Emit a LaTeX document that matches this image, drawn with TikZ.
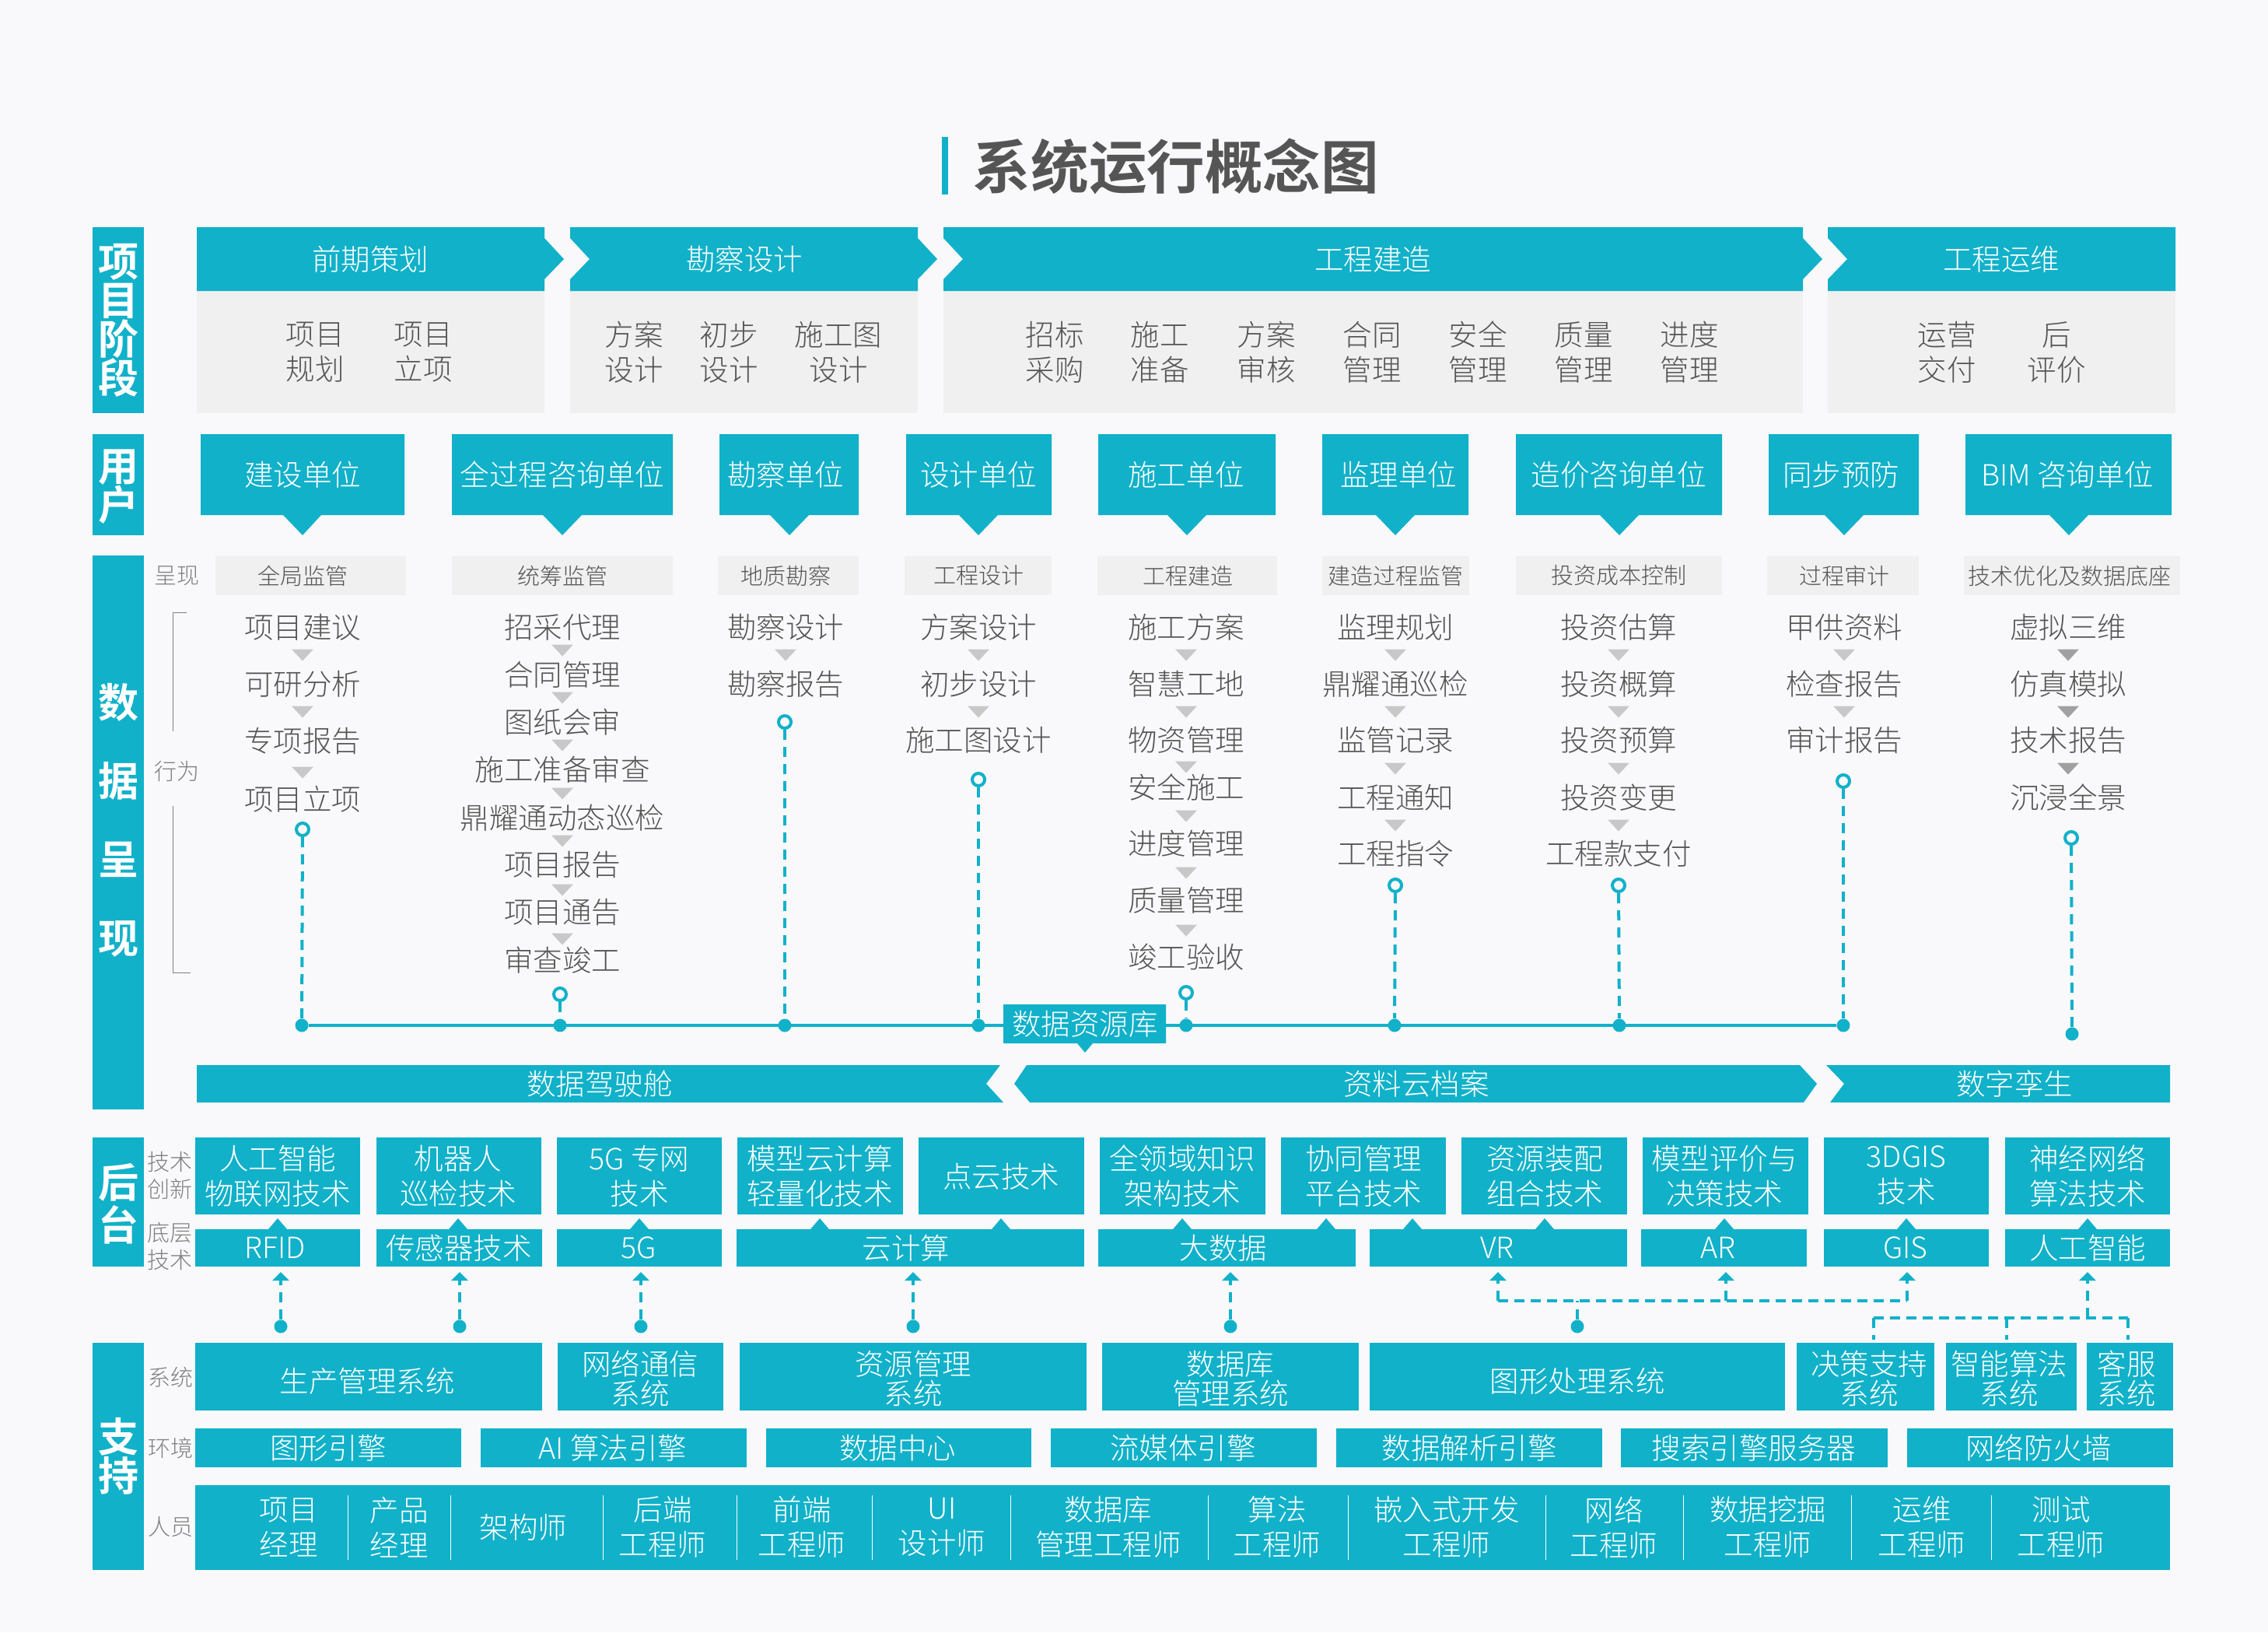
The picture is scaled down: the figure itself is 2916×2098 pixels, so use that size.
\documentclass[tikz,border=0pt]{standalone}
\usepackage{fontspec}
\usepackage{xcolor}
\setmainfont{Noto Sans CJK SC}[UprightFont={* Light}, BoldFont={* Bold}]
\usetikzlibrary{arrows.meta}
\definecolor{custom-bg}{RGB}{249, 249, 251}
\definecolor{custom-teal}{RGB}{17, 177, 201}
\definecolor{custom-panel}{RGB}{240, 240, 240}
\definecolor{custom-ink}{RGB}{85, 85, 85}
\definecolor{custom-note}{RGB}{128, 128, 128}
\definecolor{custom-mark}{RGB}{200, 200, 200}
\definecolor{custom-mark-dark}{RGB}{160, 160, 160}
\newcommand{\downmark}[3][custom-mark]{\fill[#1] (#2-14,#3-7.5) -- (#2+14,#3-7.5) -- (#2,#3+7.5) -- cycle;}
\newcommand{\uptab}[1]{\fill[custom-teal] (#1-12,1580) -- (#1+12,1580) -- (#1,1566) -- cycle;}
\tikzset{
  base-text/.style={inner sep=0pt, align=center},
  title-text/.style={base-text, text=custom-ink, font=\fontsize{37.3}{44}\selectfont\bfseries},
  band-text/.style={base-text, text=white, font=\fontsize{26}{25}\selectfont\bfseries},
  head-text/.style={base-text, text=white, font=\fontsize{18.75}{22.5}\selectfont},
  sys-text/.style={base-text, text=white, font=\fontsize{18.75}{19}\selectfont},
  task-text/.style={base-text, text=custom-ink, font=\fontsize{18.75}{22.5}\selectfont},
  item-text/.style={base-text, text=custom-ink, font=\fontsize{18.75}{22.5}\selectfont},
  tag-text/.style={base-text, text=custom-ink, font=\fontsize{14.5}{17}\selectfont},
  note-text/.style={base-text, text=custom-note, font=\fontsize{14.5}{17.5}\selectfont},
  pin-ring/.style={circle, draw=custom-teal, fill=custom-bg, line width=2pt, inner sep=0pt, minimum size=8pt},
  dot-fill/.style={circle, fill=custom-teal, inner sep=0pt, minimum size=8.5pt},
  link-dash/.style={draw=custom-teal, line width=2pt, dash pattern=on 6.5pt off 4.5pt},
  link-dots/.style={draw=custom-teal, line width=2pt, dash pattern=on 6.5pt off 4pt},
  link-tip/.style={link-dash, -{Triangle[length=5.5pt, width=10.5pt]}},
  base-line/.style={draw=custom-teal, line width=2pt},
  bracket-line/.style={draw=custom-note, line width=0.5pt}
}
\begin{document}
\begin{tikzpicture}[x=0.5pt, y=-0.5pt]
\useasboundingbox (0,0) rectangle (2916,2098);
\fill[custom-bg] (0,0) rectangle (2916,2098);

\fill[custom-teal] (1211,176) rectangle (1219,250);
\node[title-text] (title-main) at (1512,214) {系统运行概念图};

\fill[custom-teal] (119,292) rectangle (185,531);
\fill[custom-teal] (119,558) rectangle (185,688);
\fill[custom-teal] (119,714) rectangle (185,1426);
\fill[custom-teal] (119,1462) rectangle (185,1628);
\fill[custom-teal] (119,1726) rectangle (185,2018);
\node[band-text] (band-phase) at (152,412) {项\\目\\阶\\段};
\node[band-text] (band-user) at (152,626) {用\\户};
\node[band-text] (band-data) at (152,1054) {数\\[25.5pt]据\\[25.5pt]呈\\[25.5pt]现};
\node[band-text] (band-back) at (152,1547) {后\\[2.5pt]台};
\node[band-text] (band-base) at (152,1872) {支\\持};

\fill[custom-panel] (253,374) rectangle (700,531);
\fill[custom-panel] (733,374) rectangle (1180,531);
\fill[custom-panel] (1213,374) rectangle (2318,531);
\fill[custom-panel] (2350,374) rectangle (2797,531);
\fill[custom-teal] (253,292) -- (700,292) -- (700,306) -- (725,333) -- (700,359) -- (700,374) -- (253,374) -- cycle;
\fill[custom-teal] (733,292) -- (1180,292) -- (1180,306) -- (1205,333) -- (1180,359) -- (1180,374) -- (733,374) -- (733,359) -- (758,333) -- (733,306) -- cycle;
\fill[custom-teal] (1213,292) -- (2318,292) -- (2318,306) -- (2343,333) -- (2318,359) -- (2318,374) -- (1213,374) -- (1213,359) -- (1238,333) -- (1213,306) -- cycle;
\fill[custom-teal] (2350,292) -- (2797,292) -- (2797,374) -- (2350,374) -- (2350,359) -- (2375,333) -- (2350,306) -- cycle;
\node[head-text] (phase-a) at (476,333) {前期策划};
\node[head-text] (phase-b) at (957,333) {勘察设计};
\node[head-text] (phase-c) at (1765,333) {工程建造};
\node[head-text] (phase-d) at (2573,333) {工程运维};
\node[task-text] (task-a) at (405,453) {项目\\规划};
\node[task-text] (task-b) at (544,453) {项目\\立项};
\node[task-text] (task-c) at (815,453) {方案\\设计};
\node[task-text] (task-d) at (937,453) {初步\\设计};
\node[task-text] (task-e) at (1078,453) {施工图\\设计};
\node[task-text] (task-f) at (1356,453) {招标\\采购};
\node[task-text] (task-g) at (1491,453) {施工\\准备};
\node[task-text] (task-h) at (1628,453) {方案\\审核};
\node[task-text] (task-i) at (1764,453) {合同\\管理};
\node[task-text] (task-j) at (1900,453) {安全\\管理};
\node[task-text] (task-k) at (2036,453) {质量\\管理};
\node[task-text] (task-l) at (2172,453) {进度\\管理};
\node[task-text] (task-m) at (2503,453) {运营\\交付};
\node[task-text] (task-n) at (2644,453) {后\\评价};

\fill[custom-teal] (258,558) -- (520,558) -- (520,662) -- (413,662) -- (389,688) -- (364,662) -- (258,662) -- cycle;
\fill[custom-teal] (581,558) -- (865,558) -- (865,662) -- (748,662) -- (723,688) -- (698,662) -- (581,662) -- cycle;
\fill[custom-teal] (925,558) -- (1104,558) -- (1104,662) -- (1040,662) -- (1015,688) -- (990,662) -- (925,662) -- cycle;
\fill[custom-teal] (1165,558) -- (1352,558) -- (1352,662) -- (1283,662) -- (1258,688) -- (1233,662) -- (1165,662) -- cycle;
\fill[custom-teal] (1412,558) -- (1640,558) -- (1640,662) -- (1551,662) -- (1526,688) -- (1501,662) -- (1412,662) -- cycle;
\fill[custom-teal] (1700,558) -- (1888,558) -- (1888,662) -- (1819,662) -- (1794,688) -- (1769,662) -- (1700,662) -- cycle;
\fill[custom-teal] (1949,558) -- (2214,558) -- (2214,662) -- (2107,662) -- (2082,688) -- (2057,662) -- (1949,662) -- cycle;
\fill[custom-teal] (2274,558) -- (2467,558) -- (2467,662) -- (2396,662) -- (2371,688) -- (2346,662) -- (2274,662) -- cycle;
\fill[custom-teal] (2527,558) -- (2792,558) -- (2792,662) -- (2685,662) -- (2660,688) -- (2635,662) -- (2527,662) -- cycle;
\node[head-text] (user-a) at (389,610) {建设单位};
\node[head-text] (user-b) at (723,610) {全过程咨询单位};
\node[head-text] (user-c) at (1010,610) {勘察单位};
\node[head-text] (user-d) at (1258,610) {设计单位};
\node[head-text] (user-e) at (1525,610) {施工单位};
\node[head-text] (user-f) at (1798,610) {监理单位};
\node[head-text] (user-g) at (2081,610) {造价咨询单位};
\node[head-text] (user-h) at (2367,610) {同步预防};
\node[head-text] (user-i) at (2658,610) {BIM 咨询单位};

\node[note-text] (note-show) at (227,740) {呈现};
\node[note-text] (note-act) at (227,991) {行为};
\draw[bracket-line] (240,787) -- (222,787) -- (222,940);
\draw[bracket-line] (222,1036) -- (222,1250) -- (245,1250);
\fill[custom-panel] (277,715) rectangle (522,765);
\fill[custom-panel] (581,715) rectangle (865,765);
\fill[custom-panel] (923,715) rectangle (1104,765);
\fill[custom-panel] (1163,715) rectangle (1352,765);
\fill[custom-panel] (1411,715) rectangle (1642,765);
\fill[custom-panel] (1700,715) rectangle (1889,765);
\fill[custom-panel] (1949,715) rectangle (2214,765);
\fill[custom-panel] (2272,715) rectangle (2467,765);
\fill[custom-panel] (2525,715) rectangle (2803,765);
\node[tag-text] (tag-a) at (389,740) {全局监管};
\node[tag-text] (tag-b) at (723,740) {统筹监管};
\node[tag-text] (tag-c) at (1010,740) {地质勘察};
\node[tag-text] (tag-d) at (1258,740) {工程设计};
\node[tag-text] (tag-e) at (1527,740) {工程建造};
\node[tag-text] (tag-f) at (1794,740) {建造过程监管};
\node[tag-text] (tag-g) at (2081,740) {投资成本控制};
\node[tag-text] (tag-h) at (2371,740) {过程审计};
\node[tag-text] (tag-i) at (2661,740) {技术优化及数据底座};

\node[item-text] (item-a-a) at (389,806) {项目建议};
\node[item-text] (item-a-b) at (389,879) {可研分析};
\node[item-text] (item-a-c) at (389,952) {专项报告};
\node[item-text] (item-a-d) at (389,1027) {项目立项};
\downmark{389}{842}
\downmark{389}{915}
\downmark{389}{993}

\node[item-text] (item-b-a) at (723,806) {招采代理};
\node[item-text] (item-b-b) at (723,867) {合同管理};
\node[item-text] (item-b-c) at (723,928) {图纸会审};
\node[item-text] (item-b-d) at (723,989) {施工准备审查};
\node[item-text] (item-b-e) at (723,1051) {鼎耀通动态巡检};
\node[item-text] (item-b-f) at (723,1111) {项目报告};
\node[item-text] (item-b-g) at (723,1172) {项目通告};
\node[item-text] (item-b-h) at (723,1234) {审查竣工};
\downmark{723}{836}
\downmark{723}{897}
\downmark{723}{958}
\downmark{723}{1020}
\downmark{723}{1081}
\downmark{723}{1144}
\downmark{723}{1207}

\node[item-text] (item-c-a) at (1010,806) {勘察设计};
\node[item-text] (item-c-b) at (1010,879) {勘察报告};
\downmark{1010}{842}

\node[item-text] (item-d-a) at (1258,806) {方案设计};
\node[item-text] (item-d-b) at (1258,879) {初步设计};
\node[item-text] (item-d-c) at (1258,951) {施工图设计};
\downmark{1258}{842}
\downmark{1258}{915}

\node[item-text] (item-e-a) at (1525,806) {施工方案};
\node[item-text] (item-e-b) at (1525,879) {智慧工地};
\node[item-text] (item-e-c) at (1525,951) {物资管理};
\node[item-text] (item-e-d) at (1525,1012) {安全施工};
\node[item-text] (item-e-e) at (1525,1084) {进度管理};
\node[item-text] (item-e-f) at (1525,1157) {质量管理};
\node[item-text] (item-e-g) at (1525,1230) {竣工验收};
\downmark{1525}{842}
\downmark{1525}{915}
\downmark{1525}{986}
\downmark{1525}{1049}
\downmark{1525}{1122}
\downmark{1525}{1196}

\node[item-text] (item-f-a) at (1794,806) {监理规划};
\node[item-text] (item-f-b) at (1794,879) {鼎耀通巡检};
\node[item-text] (item-f-c) at (1794,951) {监管记录};
\node[item-text] (item-f-d) at (1794,1025) {工程通知};
\node[item-text] (item-f-e) at (1794,1097) {工程指令};
\downmark{1794}{842}
\downmark{1794}{915}
\downmark{1794}{988}
\downmark{1794}{1061}

\node[item-text] (item-g-a) at (2081,806) {投资估算};
\node[item-text] (item-g-b) at (2081,879) {投资概算};
\node[item-text] (item-g-c) at (2081,951) {投资预算};
\node[item-text] (item-g-d) at (2081,1025) {投资变更};
\node[item-text] (item-g-e) at (2081,1097) {工程款支付};
\downmark{2081}{842}
\downmark{2081}{915}
\downmark{2081}{988}
\downmark{2081}{1061}

\node[item-text] (item-h-a) at (2371,806) {甲供资料};
\node[item-text] (item-h-b) at (2371,879) {检查报告};
\node[item-text] (item-h-c) at (2371,951) {审计报告};
\downmark{2371}{842}
\downmark{2371}{915}

\node[item-text] (item-i-a) at (2659,806) {虚拟三维};
\node[item-text] (item-i-b) at (2659,879) {仿真模拟};
\node[item-text] (item-i-c) at (2659,951) {技术报告};
\node[item-text] (item-i-d) at (2659,1025) {沉浸全景};
\downmark[custom-mark-dark]{2659}{842}
\downmark[custom-mark-dark]{2659}{915}
\downmark[custom-mark-dark]{2659}{988}

\node[pin-ring] (pin-a) at (389,1066) {};
\node[pin-ring] (pin-b) at (720,1278) {};
\node[pin-ring] (pin-c) at (1009,928) {};
\node[pin-ring] (pin-d) at (1258,1002) {};
\node[pin-ring] (pin-e) at (1525,1276) {};
\node[pin-ring] (pin-f) at (1794,1138) {};
\node[pin-ring] (pin-g) at (2081,1138) {};
\node[pin-ring] (pin-h) at (2370,1004) {};
\node[pin-ring] (pin-i) at (2663,1077) {};
\node[dot-fill] (dot-a) at (388,1318) {};
\node[dot-fill] (dot-b) at (720,1318) {};
\node[dot-fill] (dot-c) at (1009,1318) {};
\node[dot-fill] (dot-d) at (1258,1318) {};
\node[dot-fill] (dot-e) at (1525,1318) {};
\node[dot-fill] (dot-f) at (1793,1318) {};
\node[dot-fill] (dot-g) at (2082,1318) {};
\node[dot-fill] (dot-h) at (2370,1318) {};
\node[dot-fill] (dot-i) at (2664,1329) {};
\draw[link-dash] (pin-a) -- (dot-a);
\draw[link-dash] (pin-b) -- (dot-b);
\draw[link-dash] (pin-c) -- (dot-c);
\draw[link-dash] (pin-d) -- (dot-d);
\draw[link-dash] (pin-e) -- (dot-e);
\draw[link-dash] (pin-f) -- (dot-f);
\draw[link-dash] (pin-g) -- (dot-g);
\draw[link-dash] (pin-h) -- (dot-h);
\draw[link-dash] (pin-i) -- (dot-i);
\draw[base-line] (dot-a) -- (dot-h);

\fill[custom-teal] (1290,1291) -- (1499,1291) -- (1499,1341) -- (1405,1341) -- (1395,1353) -- (1385,1341) -- (1290,1341) -- cycle;
\node[head-text] (store-main) at (1395,1316) {数据资源库};

\fill[custom-teal] (253,1369) -- (1286,1369) -- (1268,1393) -- (1290,1417) -- (253,1417) -- cycle;
\fill[custom-teal] (1320,1369) -- (2314,1369) -- (2336,1393) -- (2319,1417) -- (1324,1417) -- (1304,1393) -- cycle;
\fill[custom-teal] (2348,1369) -- (2790,1369) -- (2790,1417) -- (2353,1417) -- (2371,1393) -- cycle;
\node[head-text] (strip-a) at (771,1393) {数据驾驶舱};
\node[head-text] (strip-b) at (1821,1393) {资料云档案};
\node[head-text] (strip-c) at (2590,1393) {数字孪生};

\node[note-text] (note-new) at (218,1511) {技术\\创新};
\node[note-text] (note-low) at (218,1602) {底层\\技术};
\fill[custom-teal] (251,1462) rectangle (463,1561);
\fill[custom-teal] (484,1462) rectangle (696,1561);
\fill[custom-teal] (716,1462) rectangle (928,1561);
\fill[custom-teal] (948,1462) rectangle (1161,1561);
\fill[custom-teal] (1181,1462) rectangle (1394,1561);
\fill[custom-teal] (1414,1462) rectangle (1627,1561);
\fill[custom-teal] (1647,1462) rectangle (1859,1561);
\fill[custom-teal] (1879,1462) rectangle (2092,1561);
\fill[custom-teal] (2112,1462) rectangle (2325,1561);
\fill[custom-teal] (2345,1462) rectangle (2557,1561);
\fill[custom-teal] (2578,1462) rectangle (2790,1561);
\node[head-text] (tech-a) at (357,1512) {人工智能\\物联网技术};
\node[head-text] (tech-b) at (589,1512) {机器人\\巡检技术};
\node[head-text] (tech-c) at (822,1512) {5G 专网\\技术};
\node[head-text] (tech-d) at (1054,1512) {模型云计算\\轻量化技术};
\node[head-text] (tech-e) at (1287,1512) {点云技术};
\node[head-text] (tech-f) at (1520,1512) {全领域知识\\架构技术};
\node[head-text] (tech-g) at (1753,1512) {协同管理\\平台技术};
\node[head-text] (tech-h) at (1986,1512) {资源装配\\组合技术};
\node[head-text] (tech-i) at (2217,1512) {模型评价与\\决策技术};
\node[head-text] (tech-j) at (2451,1510) {3DGIS\\技术};
\node[head-text] (tech-k) at (2684,1512) {神经网络\\算法技术};

\fill[custom-teal] (251,1580) rectangle (463,1628);
\fill[custom-teal] (484,1580) rectangle (697,1628);
\fill[custom-teal] (716,1580) rectangle (928,1628);
\fill[custom-teal] (947,1580) rectangle (1394,1628);
\fill[custom-teal] (1412,1580) rectangle (1743,1628);
\fill[custom-teal] (1761,1580) rectangle (2092,1628);
\fill[custom-teal] (2110,1580) rectangle (2323,1628);
\fill[custom-teal] (2345,1580) rectangle (2557,1628);
\fill[custom-teal] (2578,1580) rectangle (2790,1628);
\uptab{357}
\uptab{589}
\uptab{822}
\uptab{1054}
\uptab{1287}
\uptab{1520}
\uptab{1705}
\uptab{1816}
\uptab{1986}
\uptab{2217}
\uptab{2451}
\uptab{2684}
\node[head-text] (core-a) at (354,1604) {RFID};
\node[head-text] (core-b) at (590,1604) {传感器技术};
\node[head-text] (core-c) at (821,1604) {5G};
\node[head-text] (core-d) at (1165,1604) {云计算};
\node[head-text] (core-e) at (1573,1604) {大数据};
\node[head-text] (core-f) at (1925,1604) {VR};
\node[head-text] (core-g) at (2209,1604) {AR};
\node[head-text] (core-h) at (2450,1604) {GIS};
\node[head-text] (core-i) at (2684,1604) {人工智能};

\node[dot-fill] (feed-a) at (361,1705) {};
\node[dot-fill] (feed-b) at (591,1705) {};
\node[dot-fill] (feed-c) at (824,1705) {};
\node[dot-fill] (feed-d) at (1174,1705) {};
\node[dot-fill] (feed-e) at (1582,1705) {};
\node[dot-fill] (feed-f) at (2028,1705) {};
\coordinate (tip-a) at (361,1635);
\coordinate (tip-b) at (591,1635);
\coordinate (tip-c) at (824,1635);
\coordinate (tip-d) at (1174,1635);
\coordinate (tip-e) at (1582,1635);
\coordinate (tip-f) at (1926,1635);
\coordinate (tip-g) at (2219,1635);
\coordinate (tip-h) at (2452,1635);
\coordinate (tip-i) at (2684,1635);
\draw[link-tip] (feed-a) -- (tip-a);
\draw[link-tip] (feed-b) -- (tip-b);
\draw[link-tip] (feed-c) -- (tip-c);
\draw[link-tip] (feed-d) -- (tip-d);
\draw[link-tip] (feed-e) -- (tip-e);

\coordinate (bus-a-left) at (1926,1672);
\coordinate (bus-a-feed) at (2028,1672);
\coordinate (bus-a-mid) at (2219,1672);
\coordinate (bus-a-right) at (2452,1672);
\draw[link-dots] (bus-a-left) -- (bus-a-right);
\draw[link-dash] (feed-f) -- (bus-a-feed);
\draw[link-tip] (bus-a-left) -- (tip-f);
\draw[link-tip] (bus-a-mid) -- (tip-g);
\draw[link-tip] (bus-a-right) -- (tip-h);

\coordinate (bus-b-left) at (2409,1694);
\coordinate (bus-b-mid) at (2580,1694);
\coordinate (bus-b-feed) at (2684,1694);
\coordinate (bus-b-right) at (2736,1694);
\coordinate (drop-a) at (2409,1722);
\coordinate (drop-b) at (2580,1722);
\coordinate (drop-c) at (2736,1722);
\draw[link-dots] (bus-b-left) -- (bus-b-right);
\draw[link-tip] (bus-b-feed) -- (tip-i);
\draw[link-dash] (bus-b-left) -- (drop-a);
\draw[link-dash] (bus-b-mid) -- (drop-b);
\draw[link-dash] (bus-b-right) -- (drop-c);

\node[note-text] (note-sys) at (219,1770) {系统};
\node[note-text] (note-env) at (219,1861) {环境};
\node[note-text] (note-crew) at (219,1963) {人员};
\fill[custom-teal] (251,1726) rectangle (697,1813);
\fill[custom-teal] (717,1726) rectangle (930,1813);
\fill[custom-teal] (951,1726) rectangle (1397,1813);
\fill[custom-teal] (1417,1726) rectangle (1747,1813);
\fill[custom-teal] (1761,1726) rectangle (2295,1813);
\fill[custom-teal] (2310,1726) rectangle (2487,1813);
\fill[custom-teal] (2502,1726) rectangle (2670,1813);
\fill[custom-teal] (2683,1726) rectangle (2794,1813);
\node[sys-text] (sys-a) at (472,1775) {生产管理系统};
\node[sys-text] (sys-b) at (823,1772) {网络通信\\系统};
\node[sys-text] (sys-c) at (1174,1772) {资源管理\\系统};
\node[sys-text] (sys-d) at (1582,1772) {数据库\\管理系统};
\node[sys-text] (sys-e) at (2028,1775) {图形处理系统};
\node[sys-text] (sys-f) at (2403,1772) {决策支持\\系统};
\node[sys-text] (sys-g) at (2583,1772) {智能算法\\系统};
\node[sys-text] (sys-h) at (2734,1772) {客服\\系统};

\fill[custom-teal] (251,1836) rectangle (593,1886);
\fill[custom-teal] (618,1836) rectangle (960,1886);
\fill[custom-teal] (985,1836) rectangle (1326,1886);
\fill[custom-teal] (1351,1836) rectangle (1693,1886);
\fill[custom-teal] (1718,1836) rectangle (2060,1886);
\fill[custom-teal] (2084,1836) rectangle (2427,1886);
\fill[custom-teal] (2452,1836) rectangle (2794,1886);
\node[head-text] (env-a) at (422,1861) {图形引擎};
\node[head-text] (env-b) at (788,1861) {AI 算法引擎};
\node[head-text] (env-c) at (1154,1861) {数据中心};
\node[head-text] (env-d) at (1521,1861) {流媒体引擎};
\node[head-text] (env-e) at (1889,1861) {数据解析引擎};
\node[head-text] (env-f) at (2255,1861) {搜索引擎服务器};
\node[head-text] (env-g) at (2621,1861) {网络防火墙};

\fill[custom-teal] (251,1909) rectangle (2790,2018);
\draw[white, line width=0.5pt] (447,1922) -- (447,2005);
\draw[white, line width=0.5pt] (579,1922) -- (579,2005);
\draw[white, line width=0.5pt] (775,1922) -- (775,2005);
\draw[white, line width=0.5pt] (947,1922) -- (947,2005);
\draw[white, line width=0.5pt] (1121,1922) -- (1121,2005);
\draw[white, line width=0.5pt] (1299,1922) -- (1299,2005);
\draw[white, line width=0.5pt] (1553,1922) -- (1553,2005);
\draw[white, line width=0.5pt] (1733,1922) -- (1733,2005);
\draw[white, line width=0.5pt] (1987,1922) -- (1987,2005);
\draw[white, line width=0.5pt] (2164,1922) -- (2164,2005);
\draw[white, line width=0.5pt] (2380,1922) -- (2380,2005);
\draw[white, line width=0.5pt] (2560,1922) -- (2560,2005);
\node[head-text] (crew-a) at (371,1963) {项目\\经理};
\node[head-text] (crew-b) at (513,1963) {产品\\经理};
\node[head-text] (crew-c) at (673,1963) {架构师};
\node[head-text] (crew-d) at (852,1963) {后端\\工程师};
\node[head-text] (crew-e) at (1031,1963) {前端\\工程师};
\node[head-text] (crew-f) at (1211,1963) {UI\\设计师};
\node[head-text] (crew-g) at (1425,1963) {数据库\\管理工程师};
\node[head-text] (crew-h) at (1642,1963) {算法\\工程师};
\node[head-text] (crew-i) at (1860,1963) {嵌入式开发\\工程师};
\node[head-text] (crew-j) at (2075,1963) {网络\\工程师};
\node[head-text] (crew-k) at (2273,1963) {数据挖掘\\工程师};
\node[head-text] (crew-l) at (2471,1963) {运维\\工程师};
\node[head-text] (crew-m) at (2650,1963) {测试\\工程师};
\end{tikzpicture}
\end{document}
